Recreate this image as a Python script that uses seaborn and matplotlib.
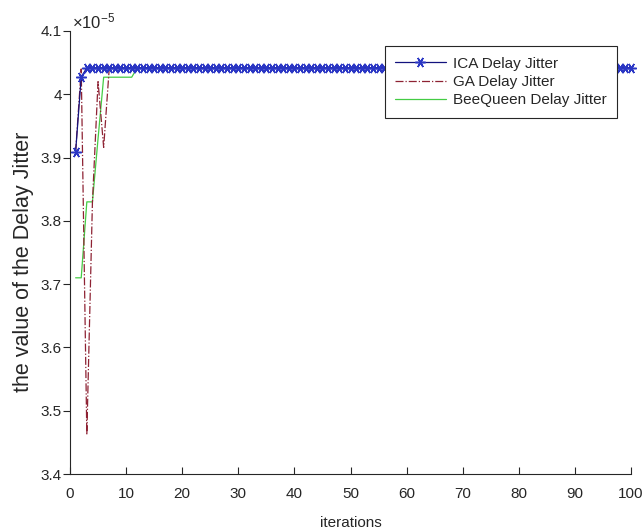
import numpy as np
import pandas as pd
import matplotlib
matplotlib.use("Agg")
import matplotlib.pyplot as plt
import seaborn as sns
from matplotlib.ticker import FuncFormatter

# Delay jitter per iteration for the three optimisers
iterations = list(range(1, 101))
ica_start = [3.909e-5, 4.027e-5]
ga_start = [3.909e-5, 4.040e-5, 3.462e-5, 3.830e-5, 4.020e-5, 3.916e-5]
bee_start = [3.710e-5, 3.710e-5, 3.830e-5, 3.830e-5, 3.930e-5,
             4.027e-5, 4.027e-5, 4.027e-5, 4.027e-5, 4.027e-5, 4.027e-5]
converged = 4.042e-5

ica = ica_start + [converged] * (100 - len(ica_start))
ga = ga_start + [converged] * (100 - len(ga_start))
bee = bee_start + [converged] * (100 - len(bee_start))

labels = ["ICA Delay Jitter", "GA Delay Jitter", "BeeQueen Delay Jitter"]
x_ticks = [0, 10, 20, 30, 40, 50, 60, 70, 80, 90, 100]
y_ticks = [3.4e-5, 3.5e-5, 3.6e-5, 3.7e-5, 3.8e-5, 3.9e-5, 4.0e-5, 4.1e-5]

df = pd.DataFrame({"iteration": iterations, "ica": ica, "ga": ga, "bee": bee})

sns.set_theme(style="ticks")
plt.rcParams["font.family"] = ["Liberation Sans", "DejaVu Sans"]
plt.rcParams["mathtext.fontset"] = "custom"
plt.rcParams["mathtext.rm"] = "Liberation Sans"
plt.rcParams["mathtext.it"] = "Liberation Sans"

ink = "#262626"
fig = plt.figure(figsize=(6.44, 5.32), dpi=100)
left, right, bottom, top = 70 / 644, 631 / 644, 58 / 532, 501 / 532
ax = fig.add_axes([left, bottom, right - left, top - bottom])

sns.lineplot(data=df, x="iteration", y="ga", ax=ax, color="#8e2233",
             linestyle="-.", linewidth=0.9, label=labels[1], zorder=3)
sns.lineplot(data=df, x="iteration", y="bee", ax=ax, color="#44cc44",
             linestyle="-", linewidth=0.9, label=labels[2], zorder=2)
sns.lineplot(data=df, x="iteration", y="ica", ax=ax, color="#12127e",
             linewidth=0.9, marker=(6, 2, 90), markersize=7.5,
             markeredgecolor="#2a36c4", markeredgewidth=1.1,
             label=labels[0], zorder=4, clip_on=False)

ax.set_xlim(0, 100)
ax.set_ylim(3.4e-5, 4.1e-5)
ax.set_xticks(x_ticks)
ax.set_yticks(y_ticks)
ax.yaxis.set_major_formatter(FuncFormatter(lambda v, _: f"{round(v * 1e5, 2):g}"))
ax.text(0.003, 1.0, r"$\times10^{-5}$", transform=ax.transAxes,
        ha="left", va="bottom", fontsize=12, color=ink)

ax.set_xlabel("iterations", fontsize=11, color=ink, labelpad=11)
ax.set_ylabel("the value of the Delay Jitter", fontsize=15.5, color=ink)
ax.yaxis.set_label_coords(-(70 - 34) / 561, (474 - 262) / 443)
ax.tick_params(axis="x", direction="in", length=5, width=0.8, colors=ink,
               labelsize=11, pad=9)
ax.tick_params(axis="y", direction="out", length=5, width=0.8, colors=ink,
               labelsize=11, pad=1)
for side in ("top", "right"):
    ax.spines[side].set_visible(False)
for side in ("left", "bottom"):
    ax.spines[side].set_color(ink)
    ax.spines[side].set_linewidth(0.8)

handles, hl = ax.get_legend_handles_labels()
order = [hl.index(l) for l in labels]
leg = ax.legend([handles[i] for i in order], [hl[i] for i in order],
                loc="upper right", bbox_to_anchor=((617 - 70) / 561, (474 - 46) / 443),
                fontsize=11, frameon=True, fancybox=False, framealpha=1,
                edgecolor=ink, handlelength=3.3, handletextpad=0.45,
                labelspacing=0.28, borderpad=0.7, borderaxespad=0)
leg.get_frame().set_linewidth(0.8)

fig.savefig("out.png", dpi=100, facecolor="white")
